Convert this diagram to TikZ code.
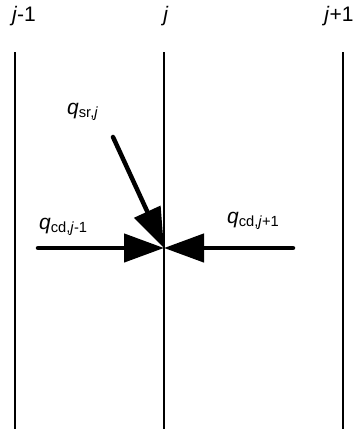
\documentclass[tikz,border=0pt]{standalone}
\usepackage{fontspec}
\setmainfont{Liberation Sans}
\usepackage{tikz}
\usetikzlibrary{arrows.meta,positioning,calc}
\newcommand{\jj}{\textit{j}}
\newcommand{\flux}[1]{\textit{q}\textsubscript{#1}}

\begin{document}
\begin{tikzpicture}[x=1pt, y=-1pt, every node/.style={font=\fontsize{21}{24}\selectfont, inner sep=0pt},
    cell/.style={line width=2.7pt},
    flow/.style={line width=4.5pt, line cap=round, -{Triangle[length=40pt, width=28pt]}}]
    \useasboundingbox (0,0) rectangle (355,429);
    % column labels
    \node (lm) at (24,16) {\jj-1};
    \node (l0) at (166,16) {\jj};
    \node (lp) at (339,16) {\jj+1};
    % cell boundaries
    \coordinate (tm) at (15,52);  \coordinate (bm) at (15,429);
    \coordinate (t0) at (164,52); \coordinate (b0) at (164,429);
    \coordinate (tp) at (343,52); \coordinate (bp) at (343,429);
    \draw[cell] (tm) -- (bm);
    \draw[cell] (t0) -- (b0);
    \draw[cell, line width=1.9pt] (tp) -- (bp);
    % fluxes into node j
    \coordinate (c) at (164,248);
    \coordinate (sr) at (113,137);
    \coordinate (cdm) at (38,248);
    \coordinate (cdp) at (293,248);
    \draw[flow] (sr) -- (c);
    \draw[flow] (cdm) -- (c);
    \draw[flow] (cdp) -- (c);
    \node[anchor=base west] (qsr) at (67,114) {\flux{sr,\jj}};
    \node[anchor=base west] (qcdm) at (39,229) {\flux{cd,\jj-1}};
    \node[anchor=base west] (qcdp) at (227,223) {\flux{cd,\jj+1}};
\end{tikzpicture}
\end{document}
